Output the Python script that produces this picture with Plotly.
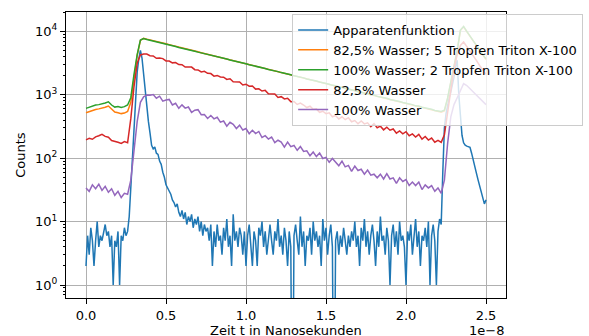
import numpy as np
import plotly.graph_objects as go

# ---------------- data ----------------
# time grids (seconds)
t_apparat = np.arange(251) * 0.01e-8   # 0 ... 2.5e-8, step 1e-10
t_probe = np.arange(126) * 0.02e-8     # 0 ... 2.5e-8, step 2e-10

apparatenfunktion = [
    # 0.00-0.25
    2, 6, 3, 8, 5, 2, 5, 10, 4, 6,
    5, 7, 9, 6, 7, 4, 6, 1, 5, 4,
    7, 1, 6, 5, 8, 6,
    # 0.26-0.79
    7, 12, 35, 90, 300, 1000, 2300, 3700, 5000, 3800,
    2100, 1100, 650, 380, 250, 160, 140, 150, 120, 115,
    90, 80, 60, 50, 38, 34, 31, 27, 22, 20,
    17, 19, 14, 12, 15, 11, 14, 9, 12, 10,
    13, 8, 11, 9, 12, 7, 10, 6, 9, 7,
    8, 5, 9, 2,
    # 0.80-2.22
    7, 4, 9, 5, 6, 3, 8, 5, 11, 4,
    6, 2, 13, 5, 7, 4, 8, 6, 3, 7,
    2, 6, 9, 4, 2, 7, 5, 2, 8, 6,
    10, 4, 7, 3, 6, 9, 5, 3, 7, 5,
    11, 4, 6, 3, 8, 5, 2, 7, 4, 0,
    6, 9, 5, 3, 12, 4, 7, 2, 6, 5,
    8, 3, 10, 5, 7, 4, 6, 2, 11, 5,
    8, 3, 6, 9, 4, 0, 5, 7, 3, 6,
    4, 8, 5, 3, 6, 4, 7, 5, 10, 4,
    6, 2, 8, 5, 11, 4, 7, 3, 6, 9,
    5, 2, 7, 4, 12, 5, 6, 3, 8, 5,
    1, 6, 9, 4, 7, 3, 10, 5, 6, 4,
    1, 7, 5, 9, 3, 6, 11, 4, 7, 2,
    6, 5, 8, 4, 10, 1, 6, 9, 5, 1,
    7, 11, 9,
    # 2.23-2.50
    60, 300, 500, 700, 900, 1100, 1400, 1900, 2800, 3500,
    1000, 400, 230, 175, 160, 155, 150, 148, 120, 90,
    72, 58, 46, 36, 30, 24, 19, 22,
]

wasser825_triton5 = [
    520, 545, 560, 585, 600, 610, 635, 665, 590, 535,
    520, 505, 515, 545, 760, 2000, 4200, 7200, 7750, 7550,
    7370, 7150, 6960, 6760, 6570, 6380, 6180, 6020, 5830, 5680,
    5500, 5360, 5200, 5050, 4900, 4760, 4620, 4490, 4360, 4230,
    4110, 3990, 3870, 3760, 3650, 3540, 3440, 3340, 3250, 3150,
    3070, 2980, 2890, 2810, 2730, 2650, 2580, 2500, 2430, 2360,
    2300, 2230, 2170, 2110, 2050, 1990, 1940, 1880, 1830, 1780,
    1730, 1680, 1630, 1590, 1540, 1500, 1450, 1410, 1370, 1330,
    1300, 1260, 1220, 1190, 1150, 1120, 1090, 1060, 1030, 1000,
    970, 940, 915, 890, 865, 840, 815, 790, 770, 745,
    725, 705, 685, 665, 650, 630, 610, 595, 575, 560,
    545, 530, 555, 860, 1550, 2750, 4900, 10300, 11800, 9900,
    8300, 7000, 5900, 5000, 4200, 3600,
]

wasser100_triton2 = [
    610, 640, 655, 690, 700, 715, 745, 775, 690, 640,
    655, 630, 650, 690, 900, 2100, 4300, 7300, 7700, 7450,
    7260, 7030, 6860, 6640, 6470, 6260, 6120, 5910, 5780, 5590,
    5460, 5270, 5150, 4980, 4860, 4710, 4590, 4440, 4340, 4200,
    4100, 3960, 3870, 3740, 3660, 3530, 3450, 3340, 3260, 3150,
    3080, 2980, 2910, 2810, 2750, 2650, 2600, 2510, 2460, 2370,
    2320, 2240, 2190, 2110, 2070, 1990, 1960, 1880, 1850, 1780,
    1750, 1680, 1650, 1590, 1560, 1500, 1470, 1410, 1390, 1330,
    1320, 1260, 1240, 1190, 1170, 1120, 1110, 1060, 1050, 1000,
    990, 945, 930, 895, 880, 845, 830, 795, 785, 755,
    740, 710, 700, 670, 665, 635, 625, 600, 590, 565,
    560, 545, 570, 890, 1600, 2800, 5000, 10500, 12000, 10000,
    8400, 7100, 6000, 5100, 4300, 3700,
]

wasser825 = [
    195, 206, 199, 217, 226, 238, 221, 214, 190, 186,
    178, 171, 183, 175, 420, 1350, 3150, 4250, 4400, 4400,
    4130, 4100, 3760, 3790, 3720, 3420, 3400, 3190, 3230, 3000,
    2980, 2740, 2750, 2740, 2490, 2470, 2290, 2350, 2180, 2160,
    1970, 2020, 1910, 1900, 1745, 1790, 1610, 1615, 1590, 1430,
    1470, 1365, 1380, 1230, 1245, 1145, 1175, 1040, 1040, 1030,
    910, 935, 860, 880, 780, 785, 705, 740, 690, 630,
    660, 590, 600, 530, 550, 505, 520, 450, 470, 415,
    450, 405, 435, 375, 393, 350, 387, 348, 362, 315,
    351, 302, 320, 280, 308, 276, 289, 248, 270, 242,
    262, 226, 242, 216, 238, 200, 220, 193, 208, 179,
    191, 178, 235, 560, 1300, 2600, 4300, 6000, 6800, 5800,
    4900, 4100, 3500, 2900, 2500, 2100,
]

wasser100 = [
    34, 30, 38, 33, 39, 31, 36, 29, 33, 26,
    30, 24, 28, 27, 45, 120, 380, 760, 930, 990,
    985, 1008, 883, 950, 794, 826, 845, 693, 736, 612,
    694, 617, 642, 529, 572, 583, 485, 490, 423, 472,
    417, 443, 371, 386, 320, 369, 342, 294, 332, 278,
    294, 243, 276, 245, 264, 212, 227, 200, 216, 176,
    192, 180, 150, 179, 152, 159, 133, 153, 128, 131,
    109, 125, 106, 121, 99, 103, 86, 99, 86, 76,
    90, 73, 77, 62, 75, 64, 67, 56, 65, 54,
    56, 49, 56, 47, 57, 47, 49, 40, 49, 43,
    46, 37, 42, 37, 42, 32, 38, 34, 37, 30,
    34, 28, 45, 170, 450, 700, 900, 1200, 1500, 1400,
    1250, 1100, 960, 860, 770, 700,
]

series = [
    ("Apparatenfunktion", t_apparat, apparatenfunktion, "#1f77b4"),
    ("82,5% Wasser; 5 Tropfen Triton X-100", t_probe, wasser825_triton5, "#ff7f0e"),
    ("100% Wasser; 2 Tropfen Triton X-100", t_probe, wasser100_triton2, "#2ca02c"),
    ("82,5% Wasser", t_probe, wasser825, "#d62728"),
    ("100% Wasser", t_probe, wasser100, "#9467bd"),
]

x_tick_vals = [0, 0.5e-8, 1.0e-8, 1.5e-8, 2.0e-8, 2.5e-8]
x_tick_text = ["0.0", "0.5", "1.0", "1.5", "2.0", "2.5"]
y_tick_vals = [1, 10, 100, 1000, 10000]
y_tick_text = ["10<sup>0</sup>", "10<sup>1</sup>", "10<sup>2</sup>", "10<sup>3</sup>", "10<sup>4</sup>"]

# ---------------- figure ----------------
FONT = "DejaVu Sans"
fig = go.Figure()
for name, t, vals, color in series:
    # zero counts cannot be shown on a log axis: send them below the axis (like matplotlib's clipping)
    y = [v if v > 0 else 1e-3 for v in vals]
    n = min(len(t), len(y))
    fig.add_trace(go.Scatter(x=t[:n], y=y[:n], mode="lines", name=name,
                             line=dict(color=color, width=1.5)))

minor_vals = [m * 10 ** e for e in range(-1, 5) for m in range(2, 10)]

fig.update_layout(
    template="none",
    width=589, height=336,
    margin=dict(l=66, r=83, t=12, b=38, pad=0, autoexpand=False),
    paper_bgcolor="white", plot_bgcolor="white",
    font=dict(family=FONT, size=13, color="black"),
    showlegend=True,
    legend=dict(x=0.514, y=0.993, xanchor="left", yanchor="top",
                bgcolor="rgba(255,255,255,0.8)", bordercolor="#cccccc", borderwidth=1,
                font=dict(family=FONT, size=13, color="black"),
                tracegroupgap=0, traceorder="normal"),
    xaxis=dict(range=[-0.125e-8, 2.625e-8], tickvals=x_tick_vals, ticktext=x_tick_text,
               ticks="outside", ticklen=5, tickwidth=1, tickcolor="black",
               showline=True, mirror=True, linecolor="black", linewidth=1,
               showgrid=True, gridcolor="#b0b0b0", gridwidth=1, zeroline=False,
               automargin=False,
               tickfont=dict(family=FONT, size=13, color="black")),
    yaxis=dict(type="log", range=[-0.205, 4.306], tickvals=y_tick_vals, ticktext=y_tick_text,
               ticks="outside", ticklen=5, tickwidth=1, tickcolor="black",
               showline=True, mirror=True, linecolor="black", linewidth=1,
               showgrid=True, gridcolor="#b0b0b0", gridwidth=1, zeroline=False,
               automargin=False,
               tickfont=dict(family=FONT, size=13, color="black"),
               minor=dict(tickvals=minor_vals, ticks="outside", ticklen=2.5,
                          tickwidth=0.8, tickcolor="black", showgrid=False)),
    annotations=[
        dict(text="Zeit t in Nanosekunden", xref="paper", yref="paper", x=0.5, y=-0.112,
             xanchor="center", yanchor="middle", showarrow=False,
             font=dict(family=FONT, size=13, color="black")),
        dict(text="1e\u22128", xref="paper", yref="paper", x=1.0, y=-0.114,
             xanchor="right", yanchor="middle", showarrow=False,
             font=dict(family=FONT, size=13, color="black")),
        dict(text="Counts", xref="paper", yref="paper", x=-0.105, y=0.5,
             xanchor="center", yanchor="middle", textangle=-90, showarrow=False,
             font=dict(family=FONT, size=13, color="black")),
    ],
)

fig.write_html("out.html", config={"displayModeBar": False},
               post_script="document.body.style.margin='0px';document.body.style.padding='0px';")
